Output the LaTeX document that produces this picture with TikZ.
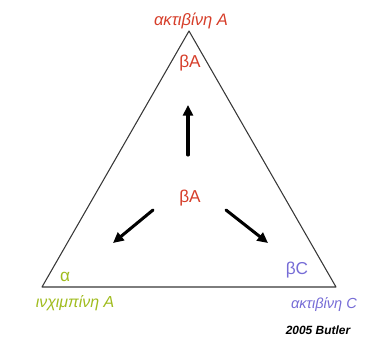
\documentclass[tikz,border=0pt]{standalone}
\usepackage{fontspec}
\setmainfont{Liberation Sans}
\usepackage{xcolor}
\usetikzlibrary{arrows.meta}
\definecolor{actred}{RGB}{214,62,42}
\definecolor{inhgreen}{RGB}{160,188,30}
\definecolor{actblue}{RGB}{118,108,214}
\definecolor{edgegray}{RGB}{55,55,55}

\begin{document}
\begin{tikzpicture}[x=0.0265cm, y=-0.0265cm, >={Stealth[length=8pt,width=7.5pt,inset=0pt]},
    flux/.style={->, line width=2.3pt, line cap=round},
    ligand/.style={font=\fontsize{12}{14}\selectfont\itshape, inner sep=1pt}]
    \useasboundingbox (0,0) rectangle (371,337);
    % Triangle
    \coordinate (top) at (189,31);
    \coordinate (left) at (42,287);
    \coordinate (right) at (336,287);
    \draw [edgegray, line width=0.8pt, line join=round] (top) -- (left) -- (right) -- cycle;
    % Corner labels
    \node [ligand, actred, font=\fontsize{12.5}{14}\selectfont\itshape] (actA) at (191,21) {ακτιβίνη A};
    \node [ligand, inhgreen] (inhA) at (75,303) {ινχιμπίνη A};
    \node [ligand, actblue, font=\fontsize{11}{13}\selectfont\itshape] (actC) at (324,305) {ακτιβίνη C};
    % Receptors
    \node [actred, font=\fontsize{13}{15}\selectfont] (btop) at (190,63) {βA};
    \node [actred, font=\fontsize{13}{15}\selectfont] (bmid) at (190,198) {βA};
    \node [inhgreen, font=\fontsize{13}{15}\selectfont] (alpha) at (65,277) {α};
    \node [actblue, font=\fontsize{13}{15}\selectfont] (bC) at (297,270) {βC};
    % Arrows
    \coordinate (upS) at (188,155);
    \coordinate (upE) at (188,105);
    \coordinate (lfS) at (153,210);
    \coordinate (lfE) at (113,243);
    \coordinate (rtS) at (226,210);
    \coordinate (rtE) at (268,243);
    \draw [flux] (upS) -- (upE);
    \draw [flux] (lfS) -- (lfE);
    \draw [flux] (rtS) -- (rtE);
    \node [font=\fontsize{9}{11}\selectfont\bfseries\itshape] (cite) at (318,330) {2005 Butler};
\end{tikzpicture}
\end{document}
